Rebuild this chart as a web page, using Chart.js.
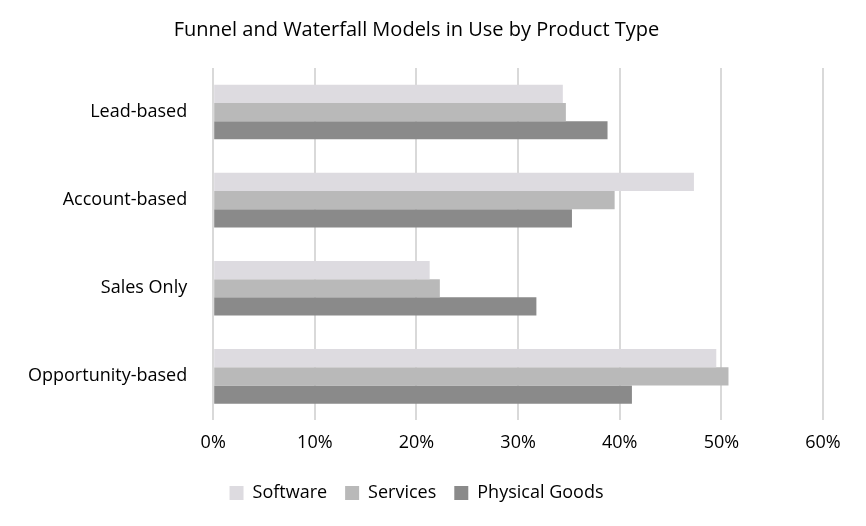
<!DOCTYPE html>
<html>
<head>
<meta charset="utf-8">
<script src="https://cdn.jsdelivr.net/npm/chart.js@4"></script>
<style>
  html, body { margin:0; padding:0; background:#fff; }
  #wrap { width:866px; height:526px; }
</style>
</head>
<body>
<div id="wrap"><canvas id="modelsChart"></canvas></div>
<script>
const categories = ['Lead-based', 'Account-based', 'Sales Only', 'Opportunity-based'];
const software = [34.4, 47.3, 21.3, 49.5];
const services = [34.7, 39.5, 22.3, 50.7];
const physicalGoods = [38.8, 35.3, 31.8, 41.2];

Chart.defaults.font.family = "'Open Sans', sans-serif";
Chart.defaults.color = '#000';

new Chart(document.getElementById('modelsChart'), {
  type: 'bar',
  data: {
    labels: categories,
    datasets: [
      { label: 'Software', data: software, backgroundColor: '#dddbe0' },
      { label: 'Services', data: services, backgroundColor: '#b9b9b9' },
      { label: 'Physical Goods', data: physicalGoods, backgroundColor: '#8a8a8a' }
    ]
  },
  options: {
    indexAxis: 'y',
    responsive: true,
    maintainAspectRatio: false,
    animation: false,
    layout: { padding: { left: 10, right: 43, top: 6, bottom: 14 } },
    datasets: { bar: { categoryPercentage: 0.62, barPercentage: 1 } },
    plugins: {
      title: {
        display: true,
        text: 'Funnel and Waterfall Models in Use by Product Type',
        font: { size: 20, weight: 'normal' },
        padding: { top: 12, bottom: 26 }
      },
      legend: {
        position: 'bottom',
        labels: { boxWidth: 14, boxHeight: 14, padding: 18, font: { size: 18 } }
      },
      tooltip: { enabled: false }
    },
    scales: {
      x: {
        min: 0, max: 60,
        ticks: { stepSize: 10, callback: v => v + '%', font: { size: 18 }, padding: 12 },
        grid: { color: '#d9d9d9', lineWidth: 2, drawTicks: false },
        border: { display: false }
      },
      y: {
        ticks: { font: { size: 18 }, padding: 18 },
        grid: { display: false },
        border: { display: false }
      }
    }
  }
});
</script>
</body>
</html>
